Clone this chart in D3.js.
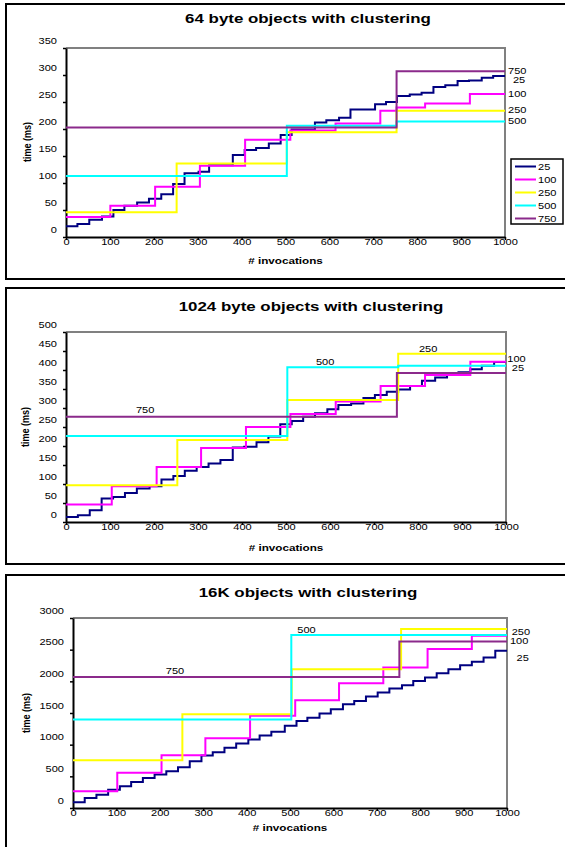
<!DOCTYPE html>
<html>
<head>
<meta charset="utf-8">
<script src="https://cdn.jsdelivr.net/npm/d3@7"></script>
<style>
  body { margin: 0; background: #fff; }
  svg { display: block; font-family: "Liberation Sans", Arial, sans-serif; }
</style>
</head>
<body>
<svg id="chart" width="565" height="847"></svg>
<script>
// series names and colours (Excel defaults)
const seriesNames = ["25", "100", "250", "500", "750"];
const colors = ["#000080", "#ff00ff", "#ffff00", "#00ffff", "#8b2a8b"];

const xTicks = [0, 100, 200, 300, 400, 500, 600, 700, 800, 900, 1000];
const yTicks64 = [0, 50, 100, 150, 200, 250, 300, 350];
const yTicks1024 = [0, 50, 100, 150, 200, 250, 300, 350, 400, 450, 500];
const yTicks16k = [0, 500, 1000, 1500, 2000, 2500, 3000];

// [invocation where the step starts, time in ms]
// 64 byte objects
const t64_25 = [[0,20],[26,24],[53,32],[82,38],[108,50],[133,58],[162,64],[189,71],[217,79],[244,98],[270,118],[302,121],[326,133],[380,152],[407,161],[433,165],[462,173],[489,189],[514,199],[567,212],[593,216],[622,221],[648,236],[704,246],[729,250],[754,261],[783,264],[810,267],[837,278],[864,281],[892,289],[918,290],[947,295],[973,298]];
const t64_100 = [[0,37],[101,58],[203,93],[305,132],[408,180],[511,197],[614,210],[716,234],[753,240],[818,247],[920,265]];
const t64_250 = [[0,46],[252,136],[503,194],[753,234]];
const t64_500 = [[0,113],[503,206],[753,214]];
const t64_750 = [[0,203],[753,307]];

// 1024 byte objects
const t1024_25 = [[0,13],[27,18],[54,31],[81,62],[107,66],[134,76],[161,88],[190,94],[217,112],[244,121],[270,135],[297,145],[324,154],[351,163],[379,196],[405,198],[433,210],[460,225],[487,257],[513,266],[539,277],[566,286],[594,297],[619,308],[648,312],[676,326],[702,334],[729,343],[755,349],[782,358],[809,372],[839,380],[866,387],[892,394],[919,402],[945,411],[973,421]];
const t1024_100 = [[0,46],[104,94],[206,145],[307,195],[409,250],[510,284],[613,317],[715,358],[816,387],[919,422]];
const t1024_250 = [[0,97],[253,216],[503,321],[755,443]];
const t1024_500 = [[0,226],[503,407],[755,411]];
const t1024_750 = [[0,277],[752,392]];

// 16K objects
const t16k_25 = [[0,89],[27,158],[54,211],[81,290],[108,343],[134,412],[161,475],[188,528],[215,581],[242,644],[269,739],[296,829],[322,881],[349,951],[376,1019],[404,1082],[430,1146],[457,1205],[488,1300],[515,1373],[540,1426],[568,1494],[594,1558],[622,1637],[648,1690],[675,1759],[702,1822],[729,1886],[758,1938],[784,2006],[811,2060],[838,2128],[865,2191],[892,2255],[919,2308],[946,2377],[973,2482]];
const t16k_100 = [[0,263],[102,555],[204,834],[305,1103],[408,1455],[512,1700],[613,1970],[715,2218],[817,2509],[919,2720]];
const t16k_250 = [[0,755],[252,1479],[504,2191],[756,2826]];
const t16k_500 = [[0,1399],[503,2730]];
const t16k_750 = [[0,2070],[752,2630]];

// in-plot series labels [text, invocations, ms]
const labels64 = [["750",1028,307],["25",1032,291],["100",1028,264],["250",1028,235],["500",1028,214]];
const labels1024 = [["750",180,295],["500",589,422],["250",823,456],["100",1024,430],["25",1027,406]];
const labels16k = [["750",235,2165],["500",538,2810],["250",1032,2778],["100",1028,2640],["25",1036,2366]];

const SX = 1.3; // the picture is stretched sideways, so is the text

const charts = [
    { title: "64 byte objects with clustering", titleX: 308, titleY: 23, box: [6, 4, 279],
      plot: { l: 66, r: 505, t: 48, b: 237 }, yMax: 350, yTicks: yTicks64,
      series: [t64_25, t64_100, t64_250, t64_500, t64_750], labels: labels64, legend: true,
      yTitle: [27, 142], xTitleY: 264 },
    { title: "1024 byte objects with clustering", titleX: 311, titleY: 311, box: [6, 288, 564],
      plot: { l: 66, r: 506, t: 332, b: 522 }, yMax: 500, yTicks: yTicks1024,
      series: [t1024_25, t1024_100, t1024_250, t1024_500, t1024_750], labels: labels1024, legend: false,
      yTitle: [25, 427], xTitleY: 551 },
    { title: "16K objects with clustering", titleX: 308, titleY: 597, box: [6, 575, 900],
      plot: { l: 73, r: 507, t: 618, b: 808 }, yMax: 3000, yTicks: yTicks16k,
      series: [t16k_25, t16k_100, t16k_250, t16k_500, t16k_750], labels: labels16k, legend: false,
      yTitle: [26, 713], xTitleY: 831 }
];

const svg = d3.select("#chart");
const fmt = d3.format("d");

// stretched text helper
function stext(g, x, y, s, size, anchor, bold) {
    return g.append("text")
        .attr("transform", `translate(${x},${y}) scale(${SX},1)`)
        .attr("text-anchor", anchor)
        .attr("font-size", size)
        .attr("font-weight", bold ? "bold" : "normal")
        .attr("fill", "#000")
        .text(s);
}

charts.forEach(function (c) {
    const g = svg.append("g");
    const p = c.plot;

    // outer frame
    g.append("rect")
        .attr("x", c.box[0]).attr("y", c.box[1])
        .attr("width", 640).attr("height", c.box[2] - c.box[1])
        .attr("fill", "#fff").attr("stroke", "#000").attr("stroke-width", 2);

    stext(g, c.titleX, c.titleY, c.title, 13, "middle", true);

    const x = d3.scaleLinear().domain([0, 1000]).range([p.l, p.r]);
    const y = d3.scaleLinear().domain([0, c.yMax]).range([p.b, p.t]);

    // gray top / right border of the plot area
    g.append("path")
        .attr("d", `M${p.l},${p.t}H${p.r}V${p.b}`)
        .attr("fill", "none").attr("stroke", "#808080").attr("stroke-width", 2);

    // y axis
    const ya = g.append("g")
        .attr("transform", `translate(${p.l},0)`)
        .call(d3.axisLeft(y).tickValues(c.yTicks).tickFormat(fmt).tickSize(3).tickSizeOuter(0));
    ya.select(".domain").attr("stroke", "#000").attr("stroke-width", 2);
    ya.selectAll(".tick line").attr("stroke", "#000").attr("stroke-width", 1.5);
    ya.selectAll(".tick text")
        .attr("x", null).attr("dy", null)
        .attr("transform", `translate(-9,-5) scale(${SX},1)`)
        .attr("font-size", 8.5).attr("font-family", null).attr("fill", "#000");

    // x axis
    const xa = g.append("g")
        .attr("transform", `translate(0,${p.b})`)
        .call(d3.axisBottom(x).tickValues(xTicks).tickFormat(fmt).tickSize(3).tickSizeOuter(0));
    xa.select(".domain").attr("stroke", "#000").attr("stroke-width", 2);
    xa.selectAll(".tick line").attr("stroke", "#000").attr("stroke-width", 1.5);
    xa.selectAll(".tick text")
        .attr("y", null).attr("dy", null)
        .attr("transform", `translate(0,8) scale(${SX},1)`)
        .attr("font-size", 8.5).attr("font-family", null).attr("fill", "#000");

    // axis titles
    stext(g, (p.l + p.r) / 2, c.xTitleY, "# invocations", 9, "middle", true);
    g.append("text")
        .attr("transform", `translate(${c.yTitle[0] + 4},${c.yTitle[1]}) scale(${SX},1) rotate(-90)`)
        .attr("text-anchor", "middle")
        .attr("font-size", 9).attr("font-weight", "bold")
        .text("time (ms)");

    // step lines
    const line = d3.line()
        .x(d => x(d[0]))
        .y(d => y(d[1]))
        .curve(d3.curveStepAfter);

    c.series.forEach(function (s, i) {
        const pts = s.concat([[1000, s[s.length - 1][1]]]);
        g.append("path")
            .datum(pts)
            .attr("d", line)
            .attr("fill", "none")
            .attr("stroke", colors[i])
            .attr("stroke-width", 2);
    });

    // series labels
    c.labels.forEach(function (l) {
        stext(g, x(l[1]), y(l[2]) + 3, l[0], 8.5, "middle", false);
    });

    // legend
    if (c.legend) {
        const lg = g.append("g");
        lg.append("rect")
            .attr("x", 511).attr("y", 159).attr("width", 52).attr("height", 65)
            .attr("fill", "#fff").attr("stroke", "#000").attr("stroke-width", 1.5);
        seriesNames.forEach(function (n, i) {
            const ly = 166.5 + i * 13;
            lg.append("line")
                .attr("x1", 515).attr("x2", 536).attr("y1", ly).attr("y2", ly)
                .attr("stroke", colors[i]).attr("stroke-width", 2);
            stext(lg, 538, ly + 3, n, 8.5, "start", false);
        });
    }
});
</script>
</body>
</html>
